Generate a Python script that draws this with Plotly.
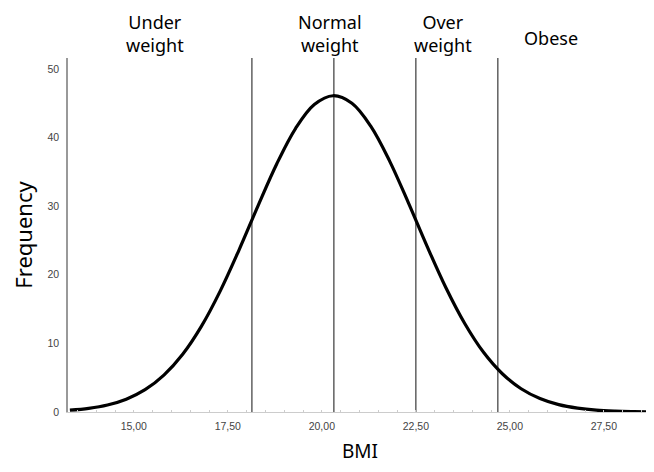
import plotly.graph_objects as go

# Curve (BMI vs Frequency)
bmi = [13.3, 13.8, 14.3, 14.8, 15.3, 15.8, 16.3, 16.8, 17.3, 17.8, 18.3, 18.8,
       19.3, 19.8, 20.3, 20.8, 21.3, 21.8, 22.3, 22.8, 23.3, 23.8, 24.3, 24.8,
       25.3, 25.8, 26.3, 26.8, 27.3, 27.8, 28.3, 28.8]
frequency = [0.26, 0.53, 1.02, 1.87, 3.25, 5.38, 8.42, 12.52, 17.66, 23.64, 30.01, 36.15,
             41.32, 44.81, 46.10, 45.00, 41.67, 36.61, 30.52, 24.14, 18.11, 12.90, 8.70, 5.58,
             3.39, 1.96, 1.07, 0.56, 0.27, 0.13, 0.06, 0.02]

# Category boundary lines
cutoffs = [18.14, 20.32, 22.50, 24.68]

# Category labels
categories = ["Under<br>weight", "Normal<br>weight", "Over<br>weight", "Obese"]

x_tickvals = [15, 17.5, 20, 22.5, 25, 27.5]
x_ticktext = ["15,00", "17,50", "20,00", "22,50", "25,00", "27,50"]
y_tickvals = [0, 10, 20, 30, 40, 50]
y_ticktext = ["0", "10", "20", "30", "40", "50"]

OFF = 8  # page body margin
W, H = 654 - OFF, 472 - OFF
ML, MR, MT, MB = 68 - OFF, 2, 58 - OFF, 60

fig = go.Figure()

# vertical lines
vx, vy = [], []
for c in cutoffs:
    vx += [c, c, None]
    vy += [0, 51.6, None]
fig.add_trace(go.Scatter(x=vx, y=vy, mode="lines",
                         line=dict(color="#555555", width=1.4),
                         hoverinfo="skip", showlegend=False))

fig.add_trace(go.Scatter(x=bmi, y=frequency, mode="lines",
                         line=dict(color="black", width=3.2, shape="spline"),
                         showlegend=False))

# category labels (page pixel positions converted to paper coords)
label_px = [(155, 33), (330, 33), (443, 33), (551, 38)]
for txt, (px, py) in zip(categories, label_px):
    fig.add_annotation(text=txt, xref="paper", yref="paper",
                       x=(px - OFF - ML) / (W - ML - MR),
                       y=1 + (MT - (py - OFF)) / (H - MT - MB),
                       showarrow=False, xanchor="center", yanchor="middle",
                       borderpad=0,
                       font=dict(family="Noto Sans", size=18, color="black"),
                       align="center")

fig.update_layout(
    width=W, height=H,
    margin=dict(l=ML, r=MR, t=MT, b=MB),
    paper_bgcolor="white", plot_bgcolor="white",
    xaxis=dict(range=[13.25, 28.78], tickvals=x_tickvals, ticktext=x_ticktext,
               showgrid=False, zeroline=False, showline=True, linecolor="#cccccc",
               linewidth=1, ticks="", ticklabelstandoff=4,
               tickfont=dict(family="Liberation Sans", size=10.5, color="#444444"),
               minor=dict(dtick=0.5, ticks="inside", ticklen=2, tickcolor="#cccccc"),
               title=dict(text="BMI", standoff=14,
                          font=dict(family="Noto Sans", size=19, color="black"))),
    yaxis=dict(range=[0, 51.6], tickvals=y_tickvals, ticktext=y_ticktext,
               showgrid=False, zeroline=False, showline=True, linecolor="#999999",
               linewidth=1.5, ticks="", ticklabelstandoff=5,
               tickfont=dict(family="Liberation Sans", size=10.5, color="#444444"),
               title=dict(text="Frequency", standoff=22,
                          font=dict(family="Noto Sans", size=22, color="black"))),
)

fig.write_html("out.html")
